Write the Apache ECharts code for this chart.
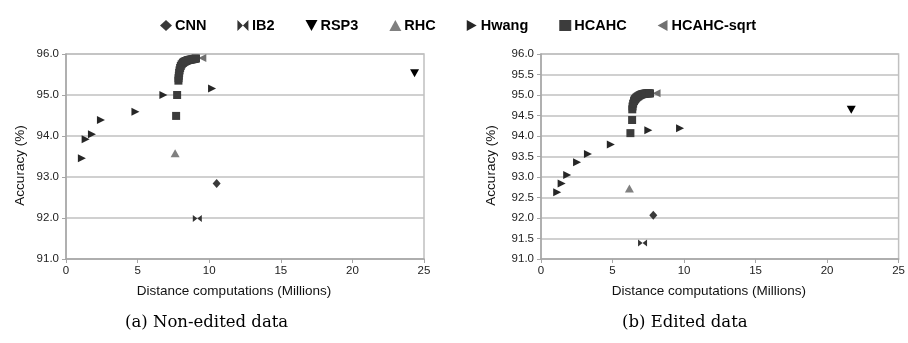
<!DOCTYPE html>
<html>
<head>
<meta charset="utf-8">
<script src="https://cdn.jsdelivr.net/npm/echarts@6/dist/echarts.min.js"></script>
<style>
  html, body { margin: 0; padding: 0; background: #fff; }
  #chart { width: 908px; height: 343px; }
</style>
</head>
<body>
<div id="chart"></div>
<script>
// ── Data (x = distance computations in millions, y = accuracy %) ──
const xTicks = [0, 5, 10, 15, 20, 25]

// (a) Non-edited data
const cnnA   = [[10.52, 92.84]]
const ib2A   = [[9.17, 91.99]]
const rsp3A  = [[24.34, 95.53]]
const rhcA   = [[7.62, 93.58]]
const hwangA = [[1.11, 93.46], [1.37, 93.92], [1.81, 94.04], [2.44, 94.39], [4.85, 94.59], [6.8, 95.0], [10.2, 95.16]]
const hcahcA = [[7.69, 94.49], [7.76, 95.0], [7.85, 95.35], [7.86, 95.41], [7.88, 95.47], [7.90, 95.54],
  [7.93, 95.60], [7.97, 95.66], [8.02, 95.71], [8.08, 95.75], [8.16, 95.78], [8.21, 95.80], [8.26, 95.81],
  [8.32, 95.82], [8.38, 95.83], [8.45, 95.84], [8.52, 95.85], [8.59, 95.855], [8.66, 95.86], [8.73, 95.865],
  [8.80, 95.87], [8.87, 95.875], [8.94, 95.88], [9.01, 95.885], [9.08, 95.89]]
const sqrtA  = [[9.52, 95.9]]

// (b) Edited data
const cnnB   = [[7.85, 92.07]]
const ib2B   = [[7.1, 91.39]]
const rsp3B  = [[21.69, 94.64]]
const rhcB   = [[6.18, 92.72]]
const hwangB = [[1.13, 92.63], [1.44, 92.84], [1.83, 93.05], [2.52, 93.36], [3.28, 93.56], [4.88, 93.79], [7.5, 94.14], [9.72, 94.19]]
const hcahcB = [[6.25, 94.07], [6.37, 94.39], [6.38, 94.65], [6.40, 94.72], [6.44, 94.79], [6.50, 94.85],
  [6.54, 94.88], [6.58, 94.90], [6.63, 94.92], [6.68, 94.94], [6.74, 94.955], [6.80, 94.97], [6.87, 94.985],
  [6.94, 95.00], [7.01, 95.01], [7.08, 95.02], [7.15, 95.025], [7.22, 95.03], [7.29, 95.035], [7.36, 95.04],
  [7.43, 95.04], [7.50, 95.04], [7.56, 95.04], [7.62, 95.04]]
const sqrtB  = [[8.08, 95.04]]

const FONT = 'Liberation Sans, Arial, sans-serif'

// ── Marker styles per method ──
const styles = {
  'CNN':        { symbol: 'diamond', size: [8, 9], color: '#3a3a3a' },
  'IB2':        { symbol: 'path://M0,0L5,5L0,10ZM10,0L5,5L10,10Z', size: [9, 7], color: '#333333' },
  'RSP3':       { symbol: 'path://M0,0L10,0L5,9Z', size: [9, 8], color: '#000000' },
  'RHC':        { symbol: 'path://M5,0L10,9L0,9Z', size: [9, 8], color: '#808080' },
  'Hwang':      { symbol: 'path://M0,0L9,5L0,10Z', size: [8, 8], color: '#262626' },
  'HCAHC':      { symbol: 'rect', size: [8, 8], color: '#3c3c3c' },
  'HCAHC-sqrt': { symbol: 'path://M9,0L0,5L9,10Z', size: [8, 8], color: '#707070' },
}

const panels = [
  { 'CNN': cnnA, 'IB2': ib2A, 'RSP3': rsp3A, 'RHC': rhcA, 'Hwang': hwangA, 'HCAHC': hcahcA, 'HCAHC-sqrt': sqrtA },
  { 'CNN': cnnB, 'IB2': ib2B, 'RSP3': rsp3B, 'RHC': rhcB, 'Hwang': hwangB, 'HCAHC': hcahcB, 'HCAHC-sqrt': sqrtB },
]

const series = []
panels.forEach((p, idx) => {
  Object.keys(styles).forEach(name => {
    const s = styles[name]
    series.push({
      type: 'scatter', name,
      xAxisIndex: idx, yAxisIndex: idx,
      data: p[name],
      symbol: s.symbol, symbolSize: s.size,
      itemStyle: { color: s.color, opacity: 1 },
      z: name === 'HCAHC-sqrt' ? 1 : 2,
    })
  })
})

function xAxis(gridIndex) {
  return {
    type: 'value', gridIndex, min: 0, max: 25, interval: 5,
    name: 'Distance computations (Millions)', nameLocation: 'middle', nameGap: 25,
    nameTextStyle: { fontFamily: FONT, fontSize: 13.5, color: '#111', padding: [0, 22, 0, 0] },
    axisLine: { lineStyle: { color: '#a6a6a6', width: 1.5 } },
    axisTick: { show: true, length: 4, lineStyle: { color: '#a6a6a6' } },
    axisLabel: { fontFamily: FONT, fontSize: 11.5, color: '#222', margin: 6 },
    splitLine: { show: false },
  }
}

function yAxis(gridIndex, step, gap) {
  return {
    type: 'value', gridIndex, min: 91, max: 96, interval: step,
    name: 'Accuracy (%)', nameLocation: 'middle', nameGap: gap,
    nameTextStyle: { fontFamily: FONT, fontSize: 13.5, color: '#111', padding: [0, 18, 0, 0] },
    axisLine: { show: true, lineStyle: { color: '#a6a6a6', width: 1.5 } },
    axisTick: { show: true, length: 4, lineStyle: { color: '#a6a6a6' } },
    axisLabel: { fontFamily: FONT, fontSize: 11.5, color: '#222', margin: 7, formatter: v => v.toFixed(1) },
    splitLine: { lineStyle: { color: '#c0c0c0', width: 1.5 } },
  }
}

const chart = echarts.init(document.getElementById('chart'), null, { renderer: 'canvas' })
chart.setOption({
  animation: false,
  legend: {
    left: 155, top: 13,
    itemWidth: 12, itemHeight: 11, itemGap: 31,
    data: Object.keys(styles),
    textStyle: { fontFamily: FONT, fontSize: 14.5, fontWeight: 'bold', color: '#000', padding: [0, 0, 0, -2] },
  },
  grid: [
    { left: 66, right: 484, top: 54, bottom: 84, show: true, borderColor: '#c0c0c0', borderWidth: 1.5 },
    { left: 541, right: 7, top: 54, bottom: 84, show: true, borderColor: '#c0c0c0', borderWidth: 1.5 },
  ],
  xAxis: [xAxis(0), xAxis(1)],
  yAxis: [yAxis(0, 1, 39), yAxis(1, 0.5, 43)],
  series,
  graphic: [
    { type: 'text', left: 125, top: 314, style: { text: '(a) Non-edited data', font: '16.5px "DejaVu Serif", serif', fill: '#000' } },
    { type: 'text', left: 622, top: 314, style: { text: '(b) Edited data', font: '16.5px "DejaVu Serif", serif', fill: '#000' } },
  ],
})
</script>
</body>
</html>
